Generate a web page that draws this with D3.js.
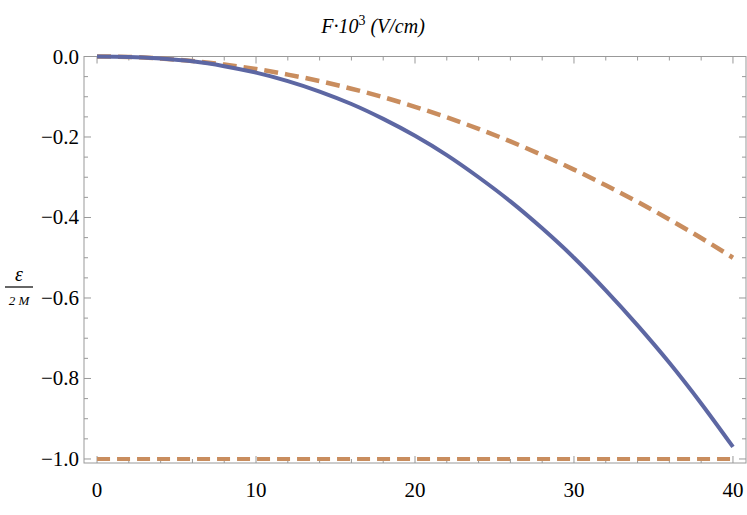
<!DOCTYPE html><html><head><meta charset="utf-8"><script src="https://cdn.jsdelivr.net/npm/d3@7"></script>
<style>body{margin:0;background:#fff}</style></head><body><svg id="c" width="747" height="515" font-family="'Liberation Serif','DejaVu Serif',serif"></svg>
<script>
const fVals=[0,2,4,6,8,10,12,14,16,18,20,22,24,26,28,30,32,34,36,38,40];
const solidVals=[0,-0.001,-0.005,-0.012,-0.024,-0.040,-0.061,-0.087,-0.118,-0.155,-0.197,-0.245,-0.300,-0.360,-0.427,-0.500,-0.581,-0.668,-0.761,-0.862,-0.970];
const dashVals=[0,-0.001,-0.005,-0.011,-0.020,-0.031,-0.045,-0.061,-0.080,-0.101,-0.125,-0.151,-0.180,-0.211,-0.245,-0.281,-0.320,-0.361,-0.405,-0.451,-0.500];
const flatVals=fVals.map(()=>-1.0);
const xTicks=[0,10,20,30,40];
const yTicks=[0,-0.2,-0.4,-0.6,-0.8,-1.0];
const svg=d3.select("#c");
const L=84,R=746,T=56.5,B=463;
const x=d3.scaleLinear().domain([-0.82,40.82]).range([L,R]);
const y=d3.scaleLinear().domain([-1.01,0]).range([B,T]);
const g=svg.append("g");
g.append("rect").attr("x",L).attr("y",T).attr("width",R-L).attr("height",B-T).attr("fill","none").attr("stroke","#999").attr("stroke-width",1);
const xMinor=d3.range(0,41,2), yMinor=d3.range(0,21).map(i=>-i*0.05);
xMinor.forEach(v=>{const big=v%10===0;const l=big?7:4;
 g.append("line").attr("x1",x(v)).attr("x2",x(v)).attr("y1",B).attr("y2",B-l).attr("stroke","#999");
 g.append("line").attr("x1",x(v)).attr("x2",x(v)).attr("y1",T).attr("y2",T+l).attr("stroke","#999");});
yMinor.forEach((v,i)=>{const big=i%4===0;const l=big?7:4;
 g.append("line").attr("x1",L).attr("x2",L+l).attr("y1",y(v)).attr("y2",y(v)).attr("stroke","#999");
 g.append("line").attr("x1",R).attr("x2",R-l).attr("y1",y(v)).attr("y2",y(v)).attr("stroke","#999");});
xTicks.forEach(v=>g.append("text").attr("x",x(v)).attr("y",497).attr("text-anchor","middle").attr("font-size",21).text(v));
yTicks.forEach(v=>g.append("text").attr("x",79).attr("y",y(v)+7).attr("text-anchor","end").attr("font-size",21).text(v===0?"0.0":"\u2212"+Math.abs(v).toFixed(1)));
const line=d3.line().x((d,i)=>x(fVals[i])).y(d=>y(d)).curve(d3.curveMonotoneX);
const orange="#C98D5E",blue="#5D67A3";
g.append("path").attr("d",line(flatVals)).attr("fill","none").attr("stroke",orange).attr("stroke-width",4).attr("stroke-dasharray","13,7");
g.append("path").attr("d",line(dashVals)).attr("fill","none").attr("stroke",orange).attr("stroke-width",4.5).attr("stroke-dasharray","14,7");
g.append("path").attr("d",line(solidVals)).attr("fill","none").attr("stroke",blue).attr("stroke-width",4);
const t=g.append("text").attr("x",373).attr("y",33).attr("text-anchor","middle").attr("font-size",20).attr("font-style","italic");
t.append("tspan").text("F\u00B710");t.append("tspan").attr("dy",-8).attr("font-size",14).attr("font-style","normal").text("3");
t.append("tspan").attr("dy",8).text(" (V/cm)");
g.append("text").attr("x",19).attr("y",281).attr("text-anchor","middle").attr("font-size",20).attr("font-style","italic").text("\u03B5");
g.append("line").attr("x1",5).attr("x2",33).attr("y1",287).attr("y2",287).attr("stroke","#333").attr("stroke-width",1.5);
g.append("text").attr("x",19).attr("y",305).attr("text-anchor","middle").attr("font-size",13).attr("font-style","italic").text("2 M");
</script></body></html>
